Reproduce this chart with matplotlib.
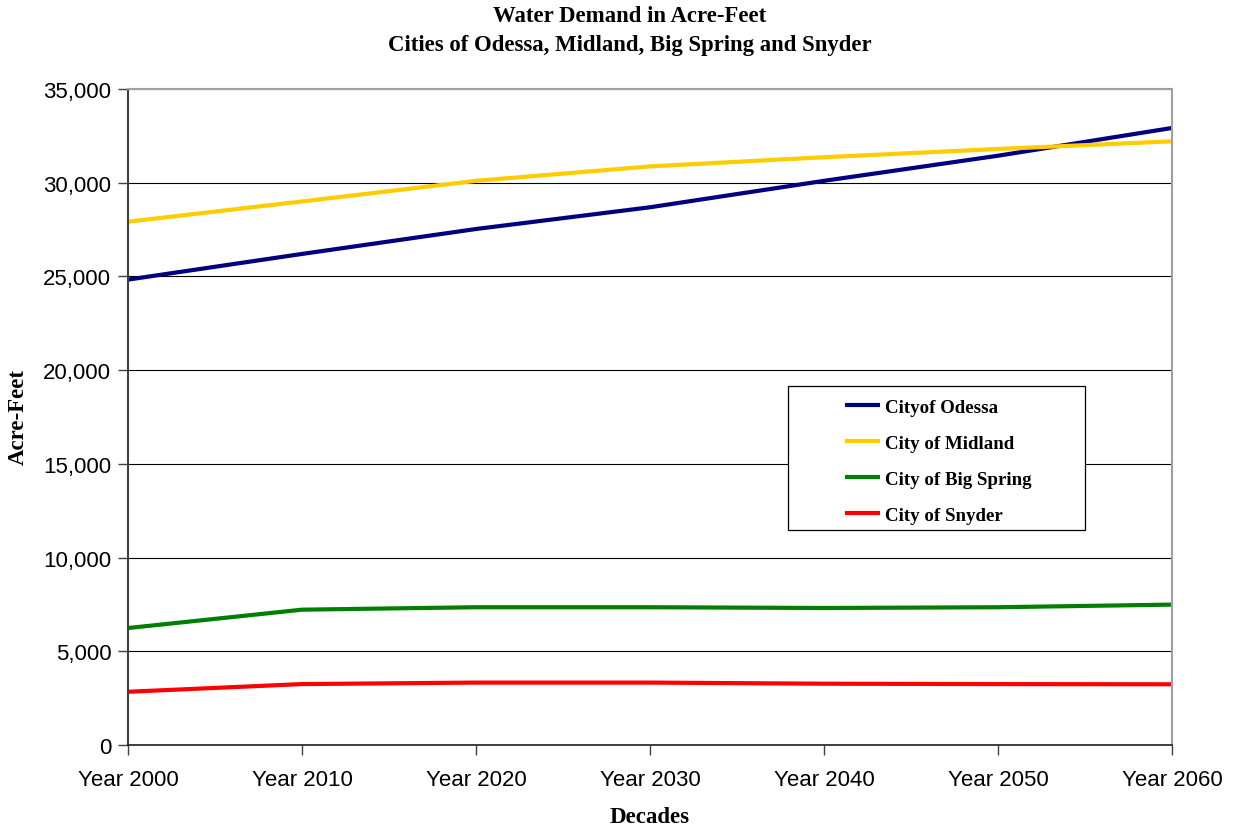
import matplotlib
matplotlib.use("Agg")
import matplotlib.pyplot as plt
from matplotlib.ticker import FuncFormatter
from matplotlib.patches import Rectangle

decades = ["Year 2000", "Year 2010", "Year 2020", "Year 2030", "Year 2040", "Year 2050", "Year 2060"]
odessa = [24830, 26200, 27530, 28690, 30100, 31440, 32920]
midland = [27920, 29000, 30100, 30870, 31360, 31800, 32210]
big_spring = [6240, 7220, 7350, 7350, 7310, 7350, 7490]
snyder = [2840, 3250, 3330, 3330, 3270, 3250, 3240]

series = [
    ("Cityof Odessa", odessa, "#000080"),
    ("City of Midland", midland, "#FFCC00"),
    ("City of Big Spring", big_spring, "#008000"),
    ("City of Snyder", snyder, "#FF0000"),
]

serif = ["Liberation Serif", "DejaVu Serif"]
sans = ["Liberation Sans", "DejaVu Sans"]

W, H = 1238, 829
fig = plt.figure(figsize=(W/100, H/100), dpi=100)
ax = fig.add_axes([128/W, 1 - 746/H, (1172-128)/W, (746-90)/H])

x = list(range(len(decades)))
for name, vals, col in series:
    ax.plot(x, vals, color=col, lw=3, label=name, solid_capstyle="butt")

ax.set_xlim(0, len(decades) - 1)
ax.set_ylim(0, 35000)
ax.set_yticks(range(0, 35001, 5000))
ax.yaxis.set_major_formatter(FuncFormatter(lambda v, p: f"{int(v):,}"))
ax.set_xticks(x)
ax.set_xticklabels(decades)
ax.grid(axis="y", color="#000000", lw=0.8)
ax.set_axisbelow(True)
for s in ["top", "right"]:
    ax.spines[s].set_color("#a0a0a0")
    ax.spines[s].set_linewidth(1.5)
ax.spines["left"].set_color("#404040")
ax.spines["left"].set_linewidth(1.5)
ax.spines["bottom"].set_color("#202020")
ax.spines["bottom"].set_linewidth(1.2)
ax.tick_params(axis="both", direction="out", length=7, width=1, color="#404040", labelsize=16)
ax.tick_params(axis="x", pad=10)
ax.tick_params(axis="y", pad=5)
for lbl in ax.get_xticklabels() + ax.get_yticklabels():
    lbl.set_family(sans)

fig.text(650/W, 1 - 818/H, "Decades", ha="center", va="center",
         fontsize=16.5, fontweight="bold", family=serif)
fig.text(18/W, 1 - 417/H, "Acre-Feet", ha="center", va="center", rotation=90,
         fontsize=16.5, fontweight="bold", family=serif)

fig.text(630/W, 1 - 17/H, "Water Demand in Acre-Feet", ha="center", va="center",
         fontsize=16.4, fontweight="bold", family=serif)
fig.text(630/W, 1 - 46/H, "Cities of Odessa, Midland, Big Spring and Snyder", ha="center", va="center",
         fontsize=16.4, fontweight="bold", family=serif)

# legend frame
frame = Rectangle((788/W, 1 - 531/H), (1085-788)/W, (531-387)/H,
                  transform=fig.transFigure, facecolor="white",
                  edgecolor="#000000", lw=0.9, zorder=5, clip_on=False)
ax.add_patch(frame)
leg = ax.legend(loc="upper left", bbox_to_anchor=(845/W, 1 - 399.5/H),
                bbox_transform=fig.transFigure,
                prop={"family": serif, "weight": "bold", "size": 13.6},
                frameon=False, handlelength=1.85, handletextpad=0.28,
                labelspacing=1.0, borderpad=0, borderaxespad=0)
leg.set_zorder(6)

fig.savefig("out.png", dpi=100, facecolor="white")
